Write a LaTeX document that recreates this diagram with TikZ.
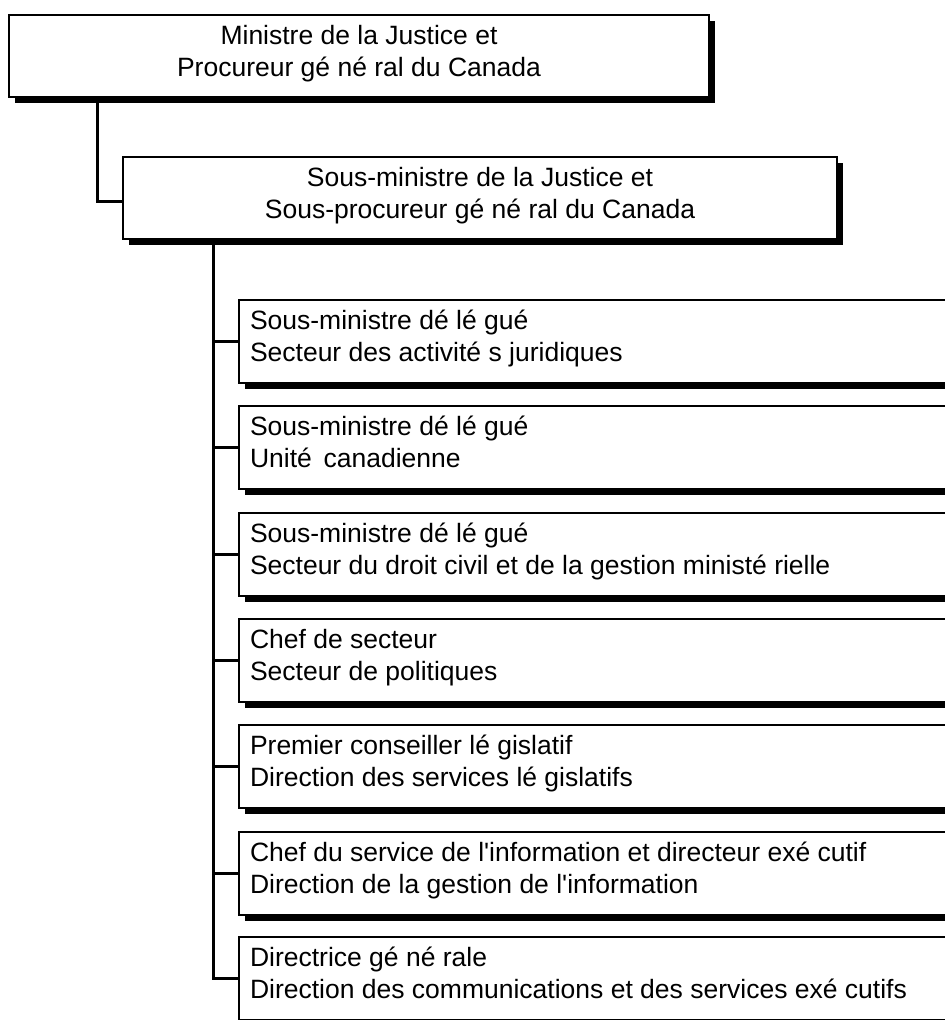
\documentclass[tikz,border=0pt]{standalone}
\usepackage{fontspec}
\newfontfamily\lsans{Liberation Sans}
\usetikzlibrary{shadows,calc,backgrounds}
\newcommand{\lefttwo}[2]{\parbox[c][83pt][t]{720pt}{\raggedright\vspace*{6.6pt}\hspace*{11pt}\strut #1\par\hspace*{11pt}\strut #2}}
\newcommand{\centtwo}[3]{\parbox[c][82pt][t]{#1}{\centering\vspace*{6.6pt}\strut #2\par\strut #3}}
\tikzset{
  orgbox/.style={draw=black, line width=2pt, fill=white, inner sep=0pt, outer sep=0pt,
    anchor=north west, font=\lsans\fontsize{26.5}{32}\selectfont,
    drop shadow={shadow xshift=6pt, shadow yshift=-6pt, opacity=1, fill=black}},
  conn/.style={draw=black, line width=3pt}
}
\begin{document}
\begin{tikzpicture}[x=1pt,y=1pt]
\useasboundingbox (0,0) rectangle (945,-1020);
\clip (0,0) rectangle (945,-1020);
\node[orgbox] (b1) at (9,-15) {\centtwo{700pt}{Ministre de la Justice et}{Procureur gé né ral du Canada}};
\node[orgbox] (b2) at (123,-157) {\centtwo{714pt}{Sous-ministre de la Justice et}{Sous-procureur gé né ral du Canada}};
\node[orgbox] (c1) at (239,-300) {\lefttwo{Sous-ministre dé lé gué}{Secteur des activité s juridiques}};
\node[orgbox] (c2) at (239,-406) {\lefttwo{Sous-ministre dé lé gué}{Unité\ \,canadienne}};
\node[orgbox] (c3) at (239,-513) {\lefttwo{Sous-ministre dé lé gué}{Secteur du droit civil et de la gestion ministé rielle}};
\node[orgbox] (c4) at (239,-619) {\lefttwo{Chef de secteur}{Secteur de politiques}};
\node[orgbox] (c5) at (239,-725) {\lefttwo{Premier conseiller lé gislatif}{Direction des services lé gislatifs}};
\node[orgbox] (c6) at (239,-832) {\lefttwo{Chef du service de l'information et directeur exé cutif}{Direction de la gestion de l'information}};
\node[orgbox] (c7) at (239,-937) {\lefttwo{Directrice gé né rale}{Direction des communications et des services exé cutifs}};
\begin{scope}[on background layer]
  \coordinate (t1) at ($(b1.south west)+(88,0)$);
  \draw[conn] (t1) |- ([yshift=-3pt]b2.west);
  \coordinate (t2) at ($(b2.south west)+(90,0)$);
  \draw[conn] (t2) |- (c7.west);
  \foreach \i in {1,...,6} {
    \draw[conn] (c\i.west -| t2) -- (c\i.west);
  }
\end{scope}
\end{tikzpicture}
\end{document}
